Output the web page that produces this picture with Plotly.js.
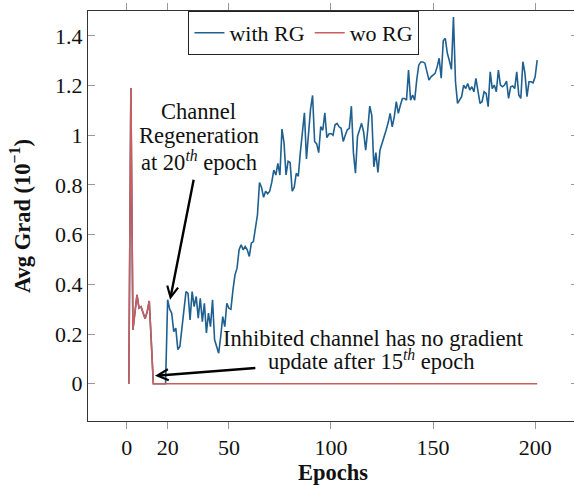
<!DOCTYPE html>
<html>
<head>
<meta charset="utf-8">
<script src="https://cdn.plot.ly/plotly-3.0.1.min.js"></script>
<style>
html,body{margin:0;padding:0;overflow:hidden;background:#fff;}
#chart{width:580px;height:485px;}
</style>
</head>
<body>
<div id="chart"></div>
<script>
// Epoch index (1..201)
const epochs = Array.from({length: 201}, (_, i) => i + 1);

// Avg gradient (x10^-1) with channel regeneration
const withRG = [
  0, 1.19, 0.217, 0.29, 0.358, 0.304, 0.31, 0.285, 0.262, 0.29,
  0.333, 0.17, 0, 0, 0, 0, 0, 0, 0, 0.338,
  0.30, 0.284, 0.21, 0.224, 0.137, 0.15, 0.23, 0.297, 0.371, 0.364,
  0.257, 0.371, 0.31, 0.351, 0.264, 0.344, 0.25, 0.324, 0.204, 0.284,
  0.23, 0.338, 0.177, 0.15, 0.123, 0.19, 0.27, 0.23, 0.324, 0.304,
  0.30, 0.378, 0.438, 0.465, 0.539, 0.559, 0.539, 0.552, 0.539, 0.512,
  0.566, 0.572, 0.619, 0.68, 0.81, 0.79, 0.75, 0.775, 0.765, 0.775,
  0.81, 0.86, 0.84, 0.887, 0.84, 1.025, 0.97, 0.84, 0.895, 0.89,
  0.775, 0.79, 0.847, 0.835, 0.93, 1.01, 1.09, 0.905, 0.995, 1.105,
  1.16, 0.975, 0.965, 0.93, 1.035, 1.02, 1.09, 0.99, 1.005, 1.007,
  1.0, 1.042, 1.048, 1.034, 1.028, 0.975, 1.0, 1.022, 1.028, 1.117,
  0.93, 0.847, 0.995, 1.02, 1.048, 1.013, 0.94, 1.02, 1.117, 1.08,
  0.873, 0.93, 0.85, 0.94, 0.965, 0.99, 1.02, 1.05, 1.088, 1.034,
  1.074, 1.135, 1.088, 1.121, 1.148, 1.148, 1.141, 1.262, 1.141, 1.162,
  1.141, 1.222, 1.282, 1.295, 1.295, 1.29, 1.255, 1.222, 1.235, 1.242,
  1.249, 1.275, 1.31, 1.23, 1.38, 1.39, 1.33, 1.30, 1.265, 1.476,
  1.215, 1.128, 1.141, 1.155, 1.202, 1.188, 1.208, 1.182, 1.195, 1.175,
  1.229, 1.175, 1.128, 1.135, 1.175, 1.168, 1.115, 1.255, 1.188, 1.202,
  1.175, 1.262, 1.202, 1.195, 1.202, 1.218, 1.148, 1.195, 1.198, 1.188,
  1.255, 1.162, 1.148, 1.296, 1.25, 1.155, 1.215, 1.215, 1.211, 1.235,
  1.302
];

// Avg gradient (x10^-1) without regeneration
const woRG = [
  0, 1.19, 0.217, 0.29, 0.358, 0.304, 0.31, 0.285, 0.262, 0.29,
  0.333, 0.17, 0, 0, 0, 0, 0, 0, 0, 0,
  0, 0, 0, 0, 0, 0, 0, 0, 0, 0,
  0, 0, 0, 0, 0, 0, 0, 0, 0, 0,
  0, 0, 0, 0, 0, 0, 0, 0, 0, 0,
  0, 0, 0, 0, 0, 0, 0, 0, 0, 0,
  0, 0, 0, 0, 0, 0, 0, 0, 0, 0,
  0, 0, 0, 0, 0, 0, 0, 0, 0, 0,
  0, 0, 0, 0, 0, 0, 0, 0, 0, 0,
  0, 0, 0, 0, 0, 0, 0, 0, 0, 0,
  0, 0, 0, 0, 0, 0, 0, 0, 0, 0,
  0, 0, 0, 0, 0, 0, 0, 0, 0, 0,
  0, 0, 0, 0, 0, 0, 0, 0, 0, 0,
  0, 0, 0, 0, 0, 0, 0, 0, 0, 0,
  0, 0, 0, 0, 0, 0, 0, 0, 0, 0,
  0, 0, 0, 0, 0, 0, 0, 0, 0, 0,
  0, 0, 0, 0, 0, 0, 0, 0, 0, 0,
  0, 0, 0, 0, 0, 0, 0, 0, 0, 0,
  0, 0, 0, 0, 0, 0, 0, 0, 0, 0,
  0, 0, 0, 0, 0, 0, 0, 0, 0, 0,
  0
];

const xTickVals = [0, 20, 50, 100, 150, 200];
const xTickText = ['0', '20', '50', '100', '150', '200'];
const yTickVals = [0, 0.2, 0.4, 0.6, 0.8, 1, 1.2, 1.4];
const yTickText = ['0', '0.2', '0.4', '0.6', '0.8', '1', '1.2', '1.4'];

const FONT = 'Liberation Serif';
const BLUE = '#1f6090';
const RED = '#cd5c5c';

const traces = [
  {x: epochs, y: withRG, type: 'scatter', mode: 'lines', name: 'with RG',
   line: {color: BLUE, width: 1.6}, hoverinfo: 'skip'},
  {x: epochs, y: woRG, type: 'scatter', mode: 'lines', name: 'wo RG',
   line: {color: RED, width: 1.6}, hoverinfo: 'skip'}
];

function txt(text, x, y) {
  return {text: text, x: x, y: y, xref: 'x', yref: 'y', showarrow: false,
          xanchor: 'center', yanchor: 'middle',
          font: {family: FONT, size: 22.5, color: '#111'}};
}
function arrow(x, y, ax, ay) {
  return {text: '', x: x, y: y, ax: ax, ay: ay, xref: 'x', yref: 'y', axref: 'x', ayref: 'y',
          showarrow: true, arrowhead: 5, arrowsize: 0.9, arrowwidth: 2.4, arrowcolor: '#000', standoff: 0};
}

const layout = {
  width: 580, height: 485,
  margin: {l: 88, r: 2, t: 11, b: 64},
  paper_bgcolor: '#fff', plot_bgcolor: '#fff',
  font: {family: FONT, size: 22, color: '#111'},
  showlegend: true,
  legend: {x: 0.205, y: 1, xanchor: 'left', yanchor: 'top', orientation: 'h',
           bordercolor: '#222', borderwidth: 1, bgcolor: '#fff',
           font: {family: FONT, size: 22, color: '#111'}},
  xaxis: {range: [-19, 221], tickvals: xTickVals, ticktext: xTickText,
          ticks: 'outside', ticklen: 7, tickcolor: '#999', tickwidth: 1,
          showline: true, linecolor: '#333', linewidth: 1, mirror: 'ticks',
          showgrid: false, zeroline: false,
          title: {text: '<b>Epochs</b>', font: {family: FONT, size: 22.5}},
          tickfont: {family: FONT, size: 22}},
  yaxis: {range: [-0.15, 1.5], tickvals: yTickVals, ticktext: yTickText,
          ticks: 'inside', ticklen: 7, tickcolor: '#999', tickwidth: 1,
          showline: true, linecolor: '#333', linewidth: 1, mirror: 'ticks',
          showgrid: false, zeroline: false, automargin: true,
          title: {text: '<b>Avg Grad (10<sup>−1</sup>)</b>', font: {family: FONT, size: 22.5}, standoff: 18},
          tickfont: {family: FONT, size: 22}},
  annotations: [
    txt('Channel', 35.3, 1.095),
    txt('Regeneration', 35.3, 0.998),
    txt('at 20<sup><i>th</i></sup> epoch', 35.3, 0.897),
    arrow(21.2, 0.338, 32.9, 0.827),
    txt('Inhibited channel has no gradient', 121, 0.181),
    txt('update after 15<sup><i>th</i></sup> epoch', 120, 0.097),
    arrow(13.8, 0.032, 63.7, 0.064)
  ]
};

Plotly.newPlot('chart', traces, layout, {displayModeBar: false, staticPlot: true});
</script>
</body>
</html>
